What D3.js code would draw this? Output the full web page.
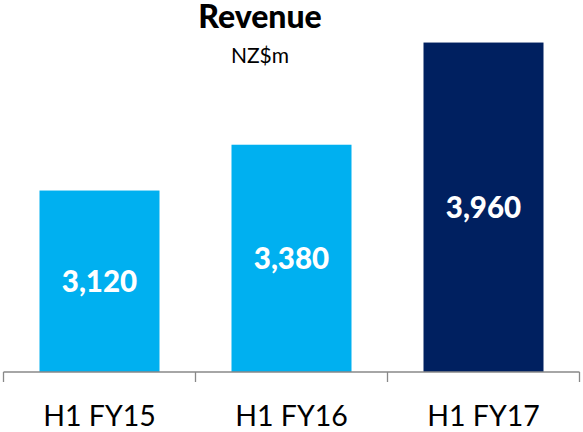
<!DOCTYPE html>
<html><head><meta charset="utf-8">
<script src="https://cdn.jsdelivr.net/npm/d3@7"></script>
<style>html,body{margin:0;padding:0;background:#fff;}svg{display:block;}</style>
</head><body>
<script>
const categories = ["H1 FY15", "H1 FY16", "H1 FY17"];
const values = [3120, 3380, 3960];
const colors = ["#00B0F0", "#00B0F0", "#002060"];
const title = "Revenue";
const subtitle = "NZ$m";

const W = 583, H = 432;
const svg = d3.select("body").append("svg").attr("width", W).attr("height", H);

const x = d3.scaleBand().domain(categories).range([3.5, 579.5]).paddingInner(0.375).paddingOuter(0.1875);
const y = d3.scaleLinear().domain([2090, 4000]).range([372, 35.5]);

svg.selectAll("rect.bar").data(values).join("rect")
  .attr("class", "bar")
  .attr("x", (d, i) => x(categories[i]))
  .attr("width", x.bandwidth())
  .attr("y", d => y(d))
  .attr("height", d => y.range()[0] - y(d))
  .attr("fill", (d, i) => colors[i]);

svg.selectAll("text.val").data(values).join("text")
  .attr("class", "val")
  .attr("x", (d, i) => x(categories[i]) + x.bandwidth() / 2)
  .attr("y", d => (y(d) + y.range()[0]) / 2)
  .attr("dy", "0.36em")
  .attr("text-anchor", "middle")
  .attr("font-family", "Lato")
  .attr("font-weight", "900")
  .attr("font-size", 29.5)
  .attr("fill", "#fff")
  .text(d => d3.format(",")(d));

// axis line and ticks at band boundaries
const axisY = 372;
const g = svg.append("g").attr("stroke", "#888").attr("stroke-width", 1.3);
g.append("line").attr("x1", x.range()[0]).attr("x2", x.range()[1]).attr("y1", axisY).attr("y2", axisY);
const bounds = categories.map(c => x(c) - x.step() * x.paddingInner() / 2).concat([x.range()[1]]);
g.selectAll("line.tick").data(bounds).join("line")
  .attr("class", "tick")
  .attr("x1", d => d).attr("x2", d => d)
  .attr("y1", axisY).attr("y2", axisY + 10);

svg.selectAll("text.cat").data(categories).join("text")
  .attr("class", "cat")
  .attr("x", d => x(d) + x.bandwidth() / 2)
  .attr("y", 425.5)
  .attr("text-anchor", "middle")
  .attr("font-family", "Lato")
  .attr("font-size", 28.5)
  .attr("fill", "#000")
  .text(d => d);

svg.append("text").attr("x", 260).attr("y", 28)
  .attr("text-anchor", "middle").attr("font-family", "Lato").attr("font-weight", "900")
  .attr("font-size", 32).attr("fill", "#000").text(title);
svg.append("text").attr("x", 260).attr("y", 62.5)
  .attr("text-anchor", "middle").attr("font-family", "Lato")
  .attr("font-size", 21).attr("fill", "#000").text(subtitle);
</script>
</body></html>
